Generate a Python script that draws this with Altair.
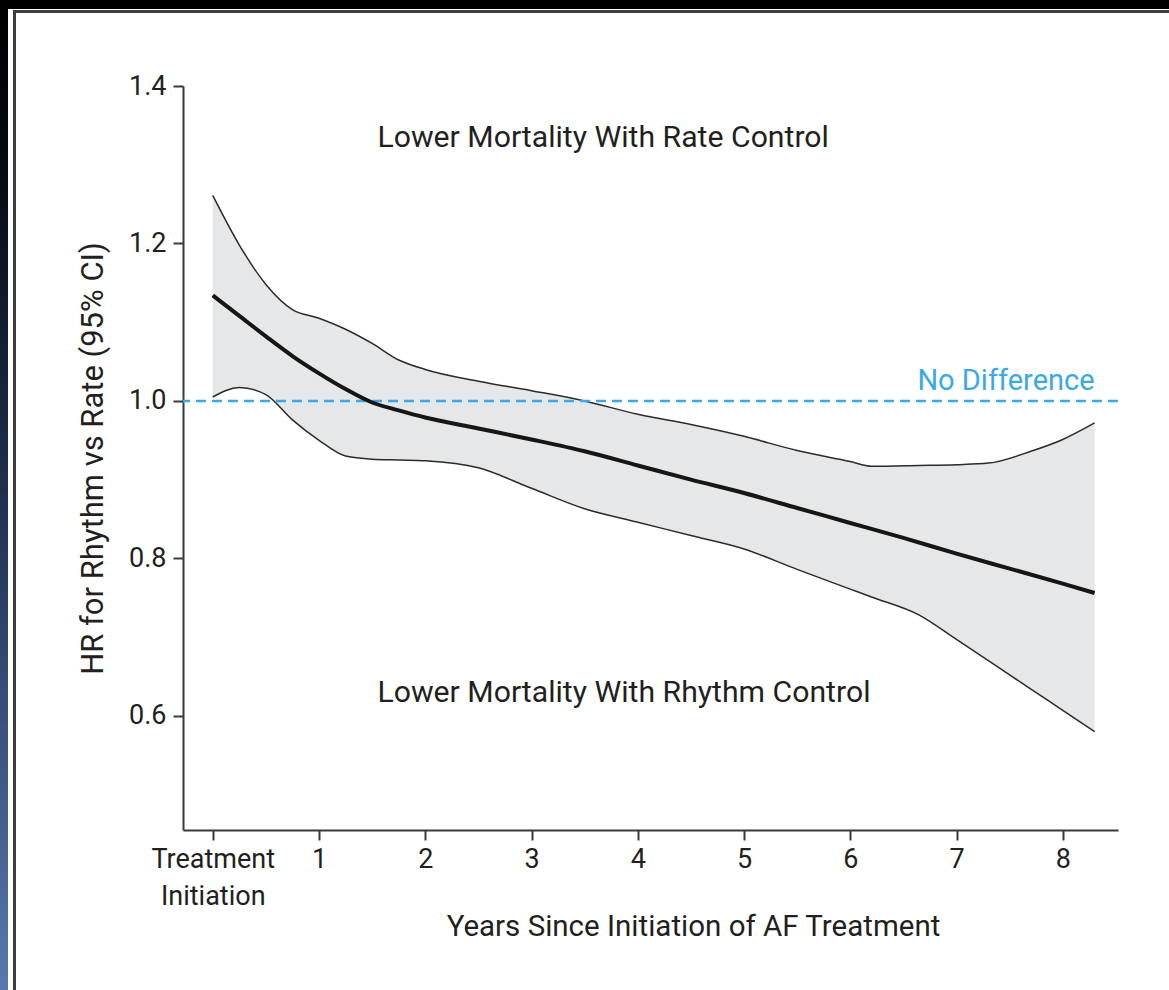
import altair as alt
import pandas as pd

# Confidence band (lower / upper 95% CI) sampled along follow-up years
band_years = [0.0, 0.25, 0.5, 0.75, 1.0, 1.25, 1.5, 1.75, 2.0, 2.5, 3.0, 3.5,
              4.0, 4.5, 5.0, 5.5, 6.0, 6.2, 6.65, 7.0, 7.3, 7.7, 8.0, 8.3]
band_upper = [1.261, 1.198, 1.148, 1.116, 1.105, 1.091, 1.073, 1.052, 1.040,
              1.025, 1.013, 1.000, 0.983, 0.970, 0.955, 0.937, 0.923, 0.917,
              0.918, 0.919, 0.921, 0.936, 0.951, 0.972]
band_lower = [1.005, 1.017, 1.008, 0.976, 0.950, 0.930, 0.926, 0.925, 0.924,
              0.915, 0.889, 0.863, 0.846, 0.829, 0.812, 0.786, 0.761, 0.751,
              0.728, 0.697, 0.670, 0.634, 0.607, 0.580]

# Point estimate of the hazard ratio
hr_years = [0.0, 0.25, 0.5, 0.75, 1.0, 1.25, 1.5, 1.75, 2.0, 2.5, 3.0, 3.5,
            4.0, 4.5, 5.0, 5.5, 6.0, 6.5, 7.0, 7.5, 8.0, 8.3]
hr_estimate = [1.134, 1.108, 1.082, 1.057, 1.035, 1.015, 0.998, 0.988, 0.979,
               0.965, 0.951, 0.936, 0.918, 0.900, 0.883, 0.864, 0.845, 0.826,
               0.806, 0.787, 0.768, 0.756]

x_ticks = [0, 1, 2, 3, 4, 5, 6, 7, 8]
y_ticks = [0.6, 0.8, 1.0, 1.2, 1.4]
no_difference = 1.0

note_labels = ["Lower Mortality With Rate Control", "Lower Mortality With Rhythm Control"]
note_x = [1.55, 1.55]
note_y = [1.323, 0.617]

FONT = "Roboto, Liberation Sans, sans-serif"
INK = "#231f20"
AXIS_GREY = "#3a3a3a"
BLUE = "#3ba9e6"

band = pd.DataFrame({"year": band_years, "lower": band_lower, "upper": band_upper})
est = pd.DataFrame({"year": hr_years, "hr": hr_estimate})
notes = pd.DataFrame({"label": note_labels, "x": note_x, "y": note_y})
ref = pd.DataFrame({"hr": [no_difference], "year": [8.3], "label": ["No Difference"]})
one = pd.DataFrame({"k": [0]})

x_scale = alt.Scale(domain=[-0.28, 8.52], nice=False, zero=False)
y_scale = alt.Scale(domain=[0.455, 1.4], nice=False, zero=False)

x_axis = alt.Axis(
    values=x_ticks,
    title="Years Since Initiation of AF Treatment",
    titleFontSize=29.5,
    labelExpr="datum.value == 0 ? ['Treatment', 'Initiation'] : datum.label",
    labelLineHeight=37,
    labelPadding=6,
    tickSize=10,
    grid=False,
    titleX=510,
    titleY=105,
    titleBaseline="alphabetic",
)
y_axis = alt.Axis(
    values=y_ticks,
    format=".1f",
    title="HR for Rhythm vs Rate (95% CI)",
    titleFontSize=31,
    labelPadding=7,
    tickSize=10,
    grid=False,
    titleX=-90,
    titleY=372,
    titleAngle=270,
    titleAlign="center",
    titleBaseline="middle",
)


def X(field):
    return alt.X(field, type="quantitative", scale=x_scale, axis=x_axis)


def Y(field):
    return alt.Y(field, type="quantitative", scale=y_scale, axis=y_axis)


area = alt.Chart(band).mark_area(color="#e6e7e8", interpolate="monotone").encode(
    x=X("year"), y=Y("lower"), y2="upper"
)
upper_line = alt.Chart(band).mark_line(
    color="#2b2b2b", strokeWidth=1.5, interpolate="monotone"
).encode(x=X("year"), y=Y("upper"))
lower_line = alt.Chart(band).mark_line(
    color="#2b2b2b", strokeWidth=1.5, interpolate="monotone"
).encode(x=X("year"), y=Y("lower"))

rule = alt.Chart(ref).mark_rule(color=BLUE, strokeWidth=2.5, strokeDash=[10, 6]).encode(
    y=Y("hr")
)
rule_label = alt.Chart(ref).mark_text(
    align="right", baseline="alphabetic", dy=-11, fontSize=29, font=FONT, color=BLUE
).encode(x=X("year"), y=Y("hr"), text="label:N")

center = alt.Chart(est).mark_line(
    color="#161616", strokeWidth=4, interpolate="monotone"
).encode(x=X("year"), y=Y("hr"))

note_text = alt.Chart(notes).mark_text(
    align="left", baseline="alphabetic", fontSize=30.2, font=FONT, color=INK
).encode(x=X("x"), y=Y("y"), text="label:N")

# Slide frame around the figure
top_bar = alt.Chart(one).mark_rect(color="#000000").encode(
    x=alt.value(-183), x2=alt.value(986), y=alt.value(-86), y2=alt.value(-77)
)
left_bar = alt.Chart(one).mark_rect(
    color=alt.LinearGradient(
        gradient="linear",
        stops=[
            alt.GradientStop(color="#000000", offset=0),
            alt.GradientStop(color="#05080f", offset=0.15),
            alt.GradientStop(color="#1f3050", offset=0.5),
            alt.GradientStop(color="#5878ad", offset=1),
        ],
        x1=0, x2=0, y1=0, y2=1,
    )
).encode(x=alt.value(-183), x2=alt.value(-175), y=alt.value(-86), y2=alt.value(904))
frame_top = alt.Chart(one).mark_rect(color="#3d3d3d").encode(
    x=alt.value(-170), x2=alt.value(986), y=alt.value(-76), y2=alt.value(-73)
)
frame_left = alt.Chart(one).mark_rect(color="#3d3d3d").encode(
    x=alt.value(-170), x2=alt.value(-167), y=alt.value(-76), y2=alt.value(904)
)

chart = alt.layer(
    top_bar, left_bar, frame_top, frame_left,
    area, upper_line, lower_line, rule, rule_label, center, note_text,
).properties(
    width=935, height=744, padding=0, background="white"
).configure_view(
    strokeWidth=0
).configure_axis(
    domainColor=AXIS_GREY,
    domainWidth=2,
    tickColor=AXIS_GREY,
    tickWidth=2,
    labelFont=FONT,
    labelFontSize=27,
    labelColor=INK,
    titleFont=FONT,
    titleFontWeight="normal",
    titleColor=INK,
)

chart.save("out.html", embed_options={"renderer": "svg", "actions": False})
